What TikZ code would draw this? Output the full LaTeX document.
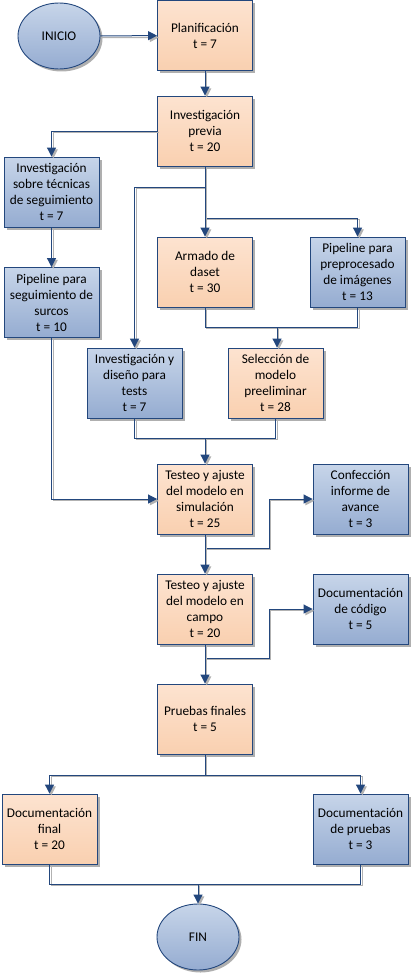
\documentclass[tikz,border=0pt]{standalone}
\usepackage{fontspec}
\setmainfont{Carlito}
\usetikzlibrary{arrows.meta,shapes.geometric,shadows}

\definecolor{edgeblue}{HTML}{23477D}
\definecolor{orgtop}{HTML}{FDE3D0}
\definecolor{orgbot}{HTML}{F9D0B0}
\definecolor{blutop}{HTML}{C7D5E9}
\definecolor{blubot}{HTML}{95ACD1}

\tikzset{
    task/.style={rectangle, draw=edgeblue, line width=0.9pt, minimum width=95pt, minimum height=70pt,
        inner sep=1pt, align=center, font=\fontsize{13.3}{16}\selectfont,
        drop shadow={shadow xshift=2.5pt, shadow yshift=-2.5pt, fill=gray!70, opacity=0.9}},
    orgtask/.style={task, top color=orgtop, bottom color=orgbot},
    blutask/.style={task, top color=blutop, bottom color=blubot},
    terminal/.style={ellipse, draw=edgeblue, line width=0.9pt, minimum width=82pt, minimum height=66pt,
        inner sep=0pt, font=\fontsize{13.3}{16}\selectfont, top color=blutop, bottom color=blubot,
        drop shadow={shadow xshift=2.5pt, shadow yshift=-2.5pt, fill=gray!70, opacity=0.9}},
    flow/.style={draw=edgeblue, line width=1pt,
        preaction={draw=gray!60, line width=1pt, transform canvas={shift={(1.8pt,-1.8pt)}}}},
    go/.style={flow, -{Triangle[length=9pt,width=9pt]}}
}

\begin{document}
\begin{tikzpicture}[x=1pt,y=-1pt]
    \useasboundingbox (0,0) rectangle (413,974);

    \node[terminal] (inicio) at (59,36) {INICIO};
    \node[orgtask] (plan) at (205,35.5) {Planificación\\t = 7};
    \node[orgtask] (previa) at (205,131) {Investigación\\previa\\t = 20};
    \node[blutask] (tecnicas) at (51.5,192) {Investigación\\sobre técnicas\\de seguimiento\\t = 7};
    \node[blutask] (pipeseg) at (51.5,302.5) {Pipeline para\\seguimiento de\\surcos\\t = 10};
    \node[orgtask] (armado) at (205,272) {Armado de\\daset\\t = 30};
    \node[blutask] (preproc) at (357.5,272) {Pipeline para\\preprocesado\\de imágenes\\t = 13};
    \node[blutask] (disenio) at (134.5,383) {Investigación y\\diseño para\\tests\\t = 7};
    \node[orgtask] (seleccion) at (275.5,383) {Selección de\\modelo\\preeliminar\\t = 28};
    \node[orgtask] (testsim) at (205,499) {Testeo y ajuste\\del modelo en\\simulación\\t = 25};
    \node[blutask] (informe) at (360.5,499) {Confección\\informe de\\avance\\t = 3};
    \node[orgtask] (testcampo) at (205,609) {Testeo y ajuste\\del modelo en\\campo\\t = 20};
    \node[blutask] (doccod) at (360.5,609) {Documentación\\de código\\t = 5};
    \node[orgtask] (pruebas) at (205,719) {Pruebas finales\\t = 5};
    \node[orgtask] (docfinal) at (49.5,829) {Documentación\\final\\t = 20};
    \node[blutask] (docpruebas) at (360.5,829) {Documentación\\de pruebas\\t = 3};
    \node[terminal] (fin) at (198,937) {FIN};

    \coordinate (split1) at (205,187);
    \coordinate (split2) at (205,218);
    \coordinate (join1) at (277,327);
    \coordinate (join2) at (205,438);
    \coordinate (side1) at (269,548);
    \coordinate (side2) at (269,658);
    \coordinate (split3) at (205,775);
    \coordinate (join3) at (198,884);

    \draw[go] (inicio) -- (plan);
    \draw[go] (plan) -- (previa);
    \draw[go] (previa.west) -| (tecnicas.north);
    \draw[go] (tecnicas) -- (pipeseg);
    \draw[go] (previa.south) -- (split1) -| (disenio.north);
    \draw[go] (previa.south) -- (split2) -| (preproc.north);
    \draw[go] (previa.south) -- (armado.north);
    \draw[flow] (armado.south) |- (join1);
    \draw[flow] (preproc.south) |- (join1);
    \draw[go] (join1) -- (join1 |- seleccion.north);
    \draw[flow] (disenio.south) |- (join2);
    \draw[flow] (seleccion.south) |- (join2);
    \draw[go] (join2) -- (testsim.north);
    \draw[go] (pipeseg.south) |- (testsim.west);
    \draw[go] (testsim.south) -- (testsim.south |- side1) -- (side1) |- (informe.west);
    \draw[go] (testsim.south) -- (testcampo.north);
    \draw[go] (testcampo.south) -- (testcampo.south |- side2) -- (side2) |- (doccod.west);
    \draw[go] (testcampo.south) -- (pruebas.north);
    \draw[go] (pruebas.south) -- (split3) -| (docfinal.north);
    \draw[go] (pruebas.south) -- (split3) -| (docpruebas.north);
    \draw[flow] (docfinal.south) |- (join3);
    \draw[flow] (docpruebas.south) |- (join3);
    \draw[go] (join3) -- (fin.north);
\end{tikzpicture}
\end{document}
